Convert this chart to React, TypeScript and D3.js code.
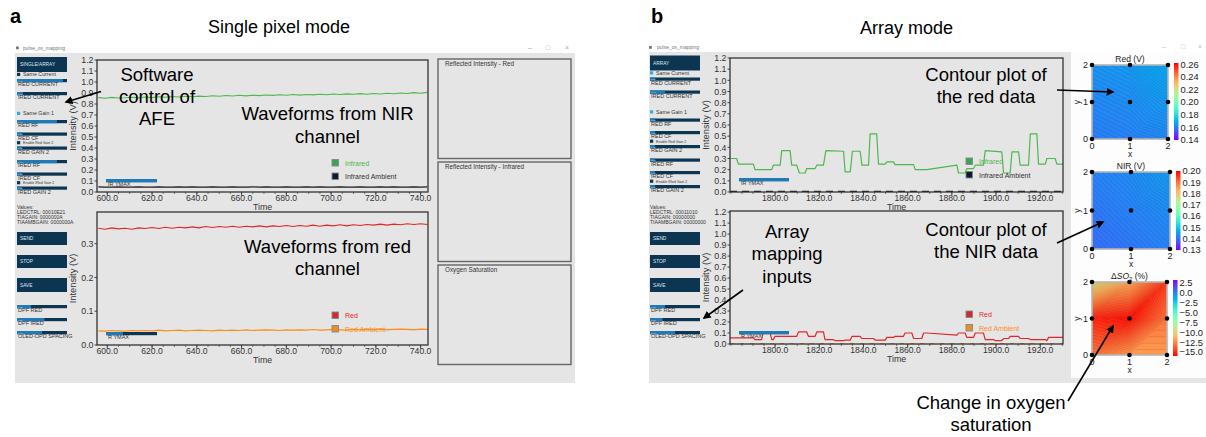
import React, { useEffect } from "react";
import * as d3 from "d3";

const FONT = "'Liberation Sans', Arial, Helvetica, sans-serif";
const NAVY = "#0c3552";
const BLUE = "#1e7bb8";
const LIGHTBLUE = "#29aee6";
const WIN = "#e5e5e5";

// ---------- Panel a: single pixel mode ----------
const timeA = [596, 599, 602, 605, 608, 611, 614, 617, 620, 623, 626, 629, 632, 635, 638, 641, 644, 647, 650, 653, 656, 659, 662, 665, 668, 671, 674, 677, 680, 683, 686, 689, 692, 695, 698, 701, 704, 707, 710, 713, 716, 719, 722, 725, 728, 731, 734, 737, 740, 743];
const irA = [0.858, 0.852, 0.860, 0.854, 0.857, 0.862, 0.856, 0.864, 0.858, 0.866, 0.861, 0.868, 0.863, 0.870, 0.866, 0.872, 0.868, 0.875, 0.870, 0.877, 0.873, 0.879, 0.874, 0.880, 0.876, 0.882, 0.878, 0.884, 0.879, 0.886, 0.881, 0.887, 0.883, 0.889, 0.884, 0.891, 0.886, 0.892, 0.888, 0.894, 0.889, 0.896, 0.891, 0.898, 0.893, 0.900, 0.895, 0.903, 0.898, 0.906];
const irAmbA = [0.046, 0.044, 0.045, 0.046, 0.044, 0.045, 0.047, 0.045, 0.044, 0.046, 0.045, 0.044, 0.046, 0.045, 0.047, 0.045, 0.044, 0.046, 0.045, 0.044, 0.046, 0.045, 0.044, 0.046, 0.045, 0.047, 0.045, 0.044, 0.046, 0.045, 0.044, 0.046, 0.045, 0.047, 0.045, 0.044, 0.046, 0.045, 0.044, 0.046, 0.045, 0.044, 0.046, 0.045, 0.047, 0.045, 0.044, 0.046, 0.045, 0.046];
const redA = [0.346, 0.343, 0.347, 0.344, 0.346, 0.343, 0.347, 0.345, 0.348, 0.345, 0.349, 0.346, 0.349, 0.347, 0.350, 0.347, 0.351, 0.348, 0.351, 0.349, 0.352, 0.349, 0.352, 0.350, 0.353, 0.350, 0.353, 0.351, 0.354, 0.351, 0.354, 0.352, 0.355, 0.352, 0.355, 0.353, 0.356, 0.353, 0.356, 0.354, 0.357, 0.355, 0.358, 0.355, 0.358, 0.356, 0.359, 0.357, 0.359, 0.357];
const redAmbA = [0.042, 0.041, 0.043, 0.042, 0.041, 0.043, 0.042, 0.043, 0.042, 0.044, 0.042, 0.043, 0.044, 0.042, 0.043, 0.044, 0.043, 0.042, 0.044, 0.043, 0.044, 0.043, 0.045, 0.043, 0.044, 0.045, 0.044, 0.043, 0.045, 0.044, 0.045, 0.044, 0.046, 0.044, 0.045, 0.046, 0.045, 0.044, 0.046, 0.045, 0.046, 0.045, 0.047, 0.045, 0.046, 0.047, 0.046, 0.045, 0.047, 0.046];

// ---------- Panel b: array mode ----------
const timeIrB = [1779.6, 1782.6, 1783.4, 1790.2, 1790.9, 1798.5, 1799.2, 1802.3, 1803.0, 1806.8, 1807.5, 1809.8, 1811.0, 1813.6, 1814.3, 1818.1, 1818.9, 1821.9, 1823.0, 1831.0, 1831.7, 1834.0, 1835.0, 1838.5, 1839.3, 1842.3, 1843.0, 1846.0, 1846.8, 1849.8, 1850.6, 1853.6, 1854.3, 1862.7, 1863.4, 1868.6, 1882.3, 1883.0, 1886.0, 1886.8, 1889.8, 1890.6, 1894.3, 1895.1, 1902.6, 1903.4, 1906.4, 1907.2, 1910.2, 1910.9, 1914.7, 1915.5, 1918.5, 1919.2, 1922.3, 1923.0, 1926.8, 1927.5, 1930.3];
const irB = [0.30, 0.30, 0.25, 0.25, 0.20, 0.20, 0.24, 0.24, 0.37, 0.37, 0.24, 0.24, 0.17, 0.17, 0.21, 0.21, 0.24, 0.24, 0.37, 0.365, 0.18, 0.18, 0.365, 0.365, 0.24, 0.24, 0.52, 0.52, 0.25, 0.25, 0.27, 0.27, 0.245, 0.245, 0.20, 0.20, 0.24, 0.17, 0.17, 0.21, 0.21, 0.24, 0.24, 0.37, 0.36, 0.17, 0.17, 0.36, 0.36, 0.24, 0.24, 0.52, 0.52, 0.25, 0.25, 0.30, 0.30, 0.25, 0.25];
const timeRedB = [1779.6, 1790.2, 1790.9, 1793.9, 1794.7, 1797.7, 1798.5, 1799.2, 1800.0, 1809.8, 1810.6, 1814.3, 1815.1, 1818.1, 1818.9, 1821.9, 1822.6, 1826.4, 1827.2, 1831.0, 1831.7, 1834.0, 1834.8, 1838.5, 1839.3, 1844.6, 1845.3, 1849.8, 1850.6, 1853.6, 1854.3, 1858.1, 1858.8, 1861.9, 1862.7, 1866.4, 1867.2, 1868.6, 1882.3, 1883.0, 1886.0, 1886.8, 1889.8, 1890.6, 1894.3, 1895.1, 1898.9, 1899.6, 1902.6, 1903.4, 1905.7, 1906.4, 1910.2, 1910.9, 1914.7, 1915.5, 1922.3, 1923.0, 1923.8, 1930.3];
const redB = [0.055, 0.055, 0.04, 0.04, 0.105, 0.105, 0.04, 0.04, 0.07, 0.07, 0.11, 0.11, 0.07, 0.07, 0.11, 0.11, 0.04, 0.04, 0.03, 0.03, 0.035, 0.035, 0.07, 0.07, 0.05, 0.05, 0.035, 0.035, 0.06, 0.06, 0.07, 0.07, 0.10, 0.10, 0.05, 0.05, 0.10, 0.10, 0.08, 0.10, 0.10, 0.06, 0.06, 0.10, 0.10, 0.04, 0.04, 0.03, 0.03, 0.05, 0.05, 0.07, 0.07, 0.05, 0.05, 0.04, 0.04, 0.03, 0.06, 0.06];
const timeAmbB = [1779.6, 1930.3];
const irAmbB = [0.006, 0.006];
const redAmbB = [0.004, 0.004];

// ---------- ticks ----------
const xTicksA = [600, 620, 640, 660, 680, 700, 720, 740];
const xTicksB = [1800, 1820, 1840, 1860, 1880, 1900, 1920];
const yTicksFull = [0, 0.1, 0.2, 0.3, 0.4, 0.5, 0.6, 0.7, 0.8, 0.9, 1.0, 1.1, 1.2];
const yTicksRedA = [0, 0.1, 0.2, 0.3];

// ---------- contour maps (rows: y = 0, 1, 2; columns: x = 0, 1, 2) ----------
const gridCoords = [0, 1, 2];
const redGrid = [
  [0.160, 0.161, 0.162],
  [0.162, 0.163, 0.165],
  [0.164, 0.165, 0.168],
];
const nirGrid = [
  [0.140, 0.141, 0.142],
  [0.141, 0.142, 0.143],
  [0.142, 0.143, 0.1445],
];
const dso2Grid = [
  [-13, -12, -12],
  [-15, -15.5, -13],
  [-9.5, -11.5, -14.5],
];
const redCbTicks = [0.26, 0.24, 0.22, 0.2, 0.18, 0.16, 0.14];
const nirCbTicks = [0.2, 0.19, 0.18, 0.17, 0.16, 0.15, 0.14, 0.13];
const dso2CbTicks = [2.5, 0.0, -2.5, -5.0, -7.5, -10.0, -12.5, -15.0];

function rainbow(t: number) {
  t = Math.max(0, Math.min(1, t));
  const r = Math.min(1, Math.abs(2 * t - 0.5));
  const g = Math.sin(Math.PI * t);
  const b = Math.cos((Math.PI * t) / 2);
  return d3.rgb(r * 255, g * 255, b * 255).formatHex();
}

type Series = { t: number[]; v: number[]; color: string; width?: number; dash?: string };

function LineChart(p: any) {
  const { id, x0, x1, y0, y1, xDomain, yDomain, xTicks, yTicks, series, legend, slider, yLabelX } = p;
  const xs = d3.scaleLinear().domain(xDomain).range([x0, x1]);
  const ys = d3.scaleLinear().domain(yDomain).range([y1, y0]);
  const fx = d3.format(".1f");
  const minor = d3.range(Math.ceil(xDomain[0] / 5) * 5, xDomain[1], 5);
  const mk = (s: Series) =>
    d3
      .line<number>()
      .x((_, i) => xs(s.t[i]))
      .y((d) => ys(d))(s.v) || "";
  return (
    <g fontFamily={FONT}>
      <defs>
        <clipPath id={id}>
          <rect x={x0} y={y0} width={x1 - x0} height={y1 - y0} />
        </clipPath>
      </defs>
      {minor.map((t) => (
        <line key={"m" + t} x1={xs(t)} x2={xs(t)} y1={y1} y2={y1 + 2} stroke="#444" strokeWidth={0.7} />
      ))}
      {xTicks.map((t: number) => (
        <g key={"x" + t}>
          <line x1={xs(t)} x2={xs(t)} y1={y1} y2={y1 + 3.5} stroke="#333" strokeWidth={0.9} />
          <text x={xs(t)} y={y1 + 8.7} textAnchor="middle" fontSize={8.6} fill="#333">
            {fx(t)}
          </text>
        </g>
      ))}
      {yTicks.map((v: number) => (
        <g key={"y" + v}>
          <line x1={x0 - 2.5} x2={x0} y1={ys(v)} y2={ys(v)} stroke="#333" strokeWidth={0.9} />
          <text x={x0 - 3.5} y={ys(v) + 3.2} textAnchor="end" fontSize={8.8} fill="#333">
            {fx(v)}
          </text>
        </g>
      ))}
      <text x={(x0 + x1) / 2} y={y1 + 17.5} textAnchor="middle" fontSize={8.8} fill="#333">
        Time
      </text>
      <text
        transform={`translate(${yLabelX},${(y0 + y1) / 2}) rotate(-90)`}
        textAnchor="middle"
        fontSize={9.3}
        fill="#333"
      >
        Intensity (V)
      </text>
      <g clipPath={`url(#${id})`}>
        {series.map((s: Series, k: number) => (
          <path
            key={k}
            d={mk(s)}
            fill="none"
            stroke={s.color}
            strokeWidth={s.width || 1.2}
            strokeDasharray={s.dash}
            strokeLinejoin="round"
          />
        ))}
      </g>
      {slider && (
        <g>
          <rect x={slider.x} y={slider.y} width={slider.w} height={3.2} fill={NAVY} />
          <rect x={slider.x} y={slider.y} width={slider.w * slider.frac} height={3.2} fill={BLUE} />
          <text x={slider.x + 2} y={slider.y + 7.3} fontSize={5.5} fill="#333">
            {slider.label}
          </text>
        </g>
      )}
      {legend.items.map((it: any, k: number) => (
        <g key={"l" + k}>
          <rect
            x={legend.x}
            y={legend.y + k * 13.5}
            width={6.5}
            height={6.5}
            fill={it.fill}
            stroke="#7a8a9a"
            strokeWidth={0.9}
          />
          <text x={legend.x + 13} y={legend.y + k * 13.5 + 6} fontSize={7} fill={it.text}>
            {it.label}
          </text>
        </g>
      ))}
      <rect x={x0} y={y0} width={x1 - x0} height={y1 - y0} fill="none" stroke="#333" strokeWidth={1.3} />
    </g>
  );
}

type SideItem =
  | { k: "btn"; y: number; h: number; label: string }
  | { k: "chk"; y: number; label: string; color: string; small?: boolean }
  | { k: "sld"; y: number; label: string; frac: number }
  | { k: "txt"; y: number; label: string };

function Sidebar({ x, items }: { x: number; items: SideItem[] }) {
  const w = 50;
  return (
    <g fontFamily={FONT}>
      {items.map((it: any, i: number) => {
        if (it.k === "btn")
          return (
            <g key={i}>
              <rect x={x} y={it.y} width={w} height={it.h} fill={NAVY} />
              <text x={x + 3} y={it.y + it.h / 2 + 1.8} fontSize={4.8} fill="#dfe8f0">
                {it.label}
              </text>
            </g>
          );
        if (it.k === "chk")
          return (
            <g key={i}>
              <rect x={x} y={it.y - 3.2} width={3.2} height={3.2} fill={it.color} />
              <text x={x + 6} y={it.y} fontSize={it.small ? 3.6 : 5.3} fill="#333">
                {it.label}
              </text>
            </g>
          );
        if (it.k === "sld")
          return (
            <g key={i}>
              <rect x={x} y={it.y} width={w} height={3.2} fill={NAVY} />
              <rect x={x} y={it.y} width={w * it.frac} height={3.2} fill={BLUE} />
              <text x={x + 1} y={it.y + 2.5} fontSize={2.3} fill="#cfe3f0">
                0.00
              </text>
              <text x={x + 1} y={it.y + 7.4} fontSize={5.5} fill="#333">
                {it.label}
              </text>
            </g>
          );
        return (
          <text key={i} x={x} y={it.y} fontSize={5} fill="#333">
            {it.label}
          </text>
        );
      })}
    </g>
  );
}

function makeSide(mode: string, dy: number, sameCurColor: string, fr: number[], vals: string[]): SideItem[] {
  return [
    { k: "btn", y: 57 + dy, h: 15, label: mode },
    { k: "chk", y: 76 + dy, label: "Same Current", color: sameCurColor },
    { k: "sld", y: 79 + dy, label: "RED CURRENT", frac: fr[0] },
    { k: "sld", y: 92 + dy, label: "IRED CURRENT", frac: fr[1] },
    { k: "chk", y: 115 + dy, label: "Same Gain 1", color: LIGHTBLUE },
    { k: "sld", y: 120 + dy, label: "RED RF", frac: fr[2] },
    { k: "sld", y: 132.5 + dy, label: "RED CF", frac: fr[3] },
    { k: "chk", y: 144.3 + dy, label: "Enable Red Gain 2", color: NAVY, small: true },
    { k: "sld", y: 146.5 + dy, label: "RED GAIN 2", frac: fr[4] },
    { k: "sld", y: 160 + dy, label: "IRED RF", frac: fr[5] },
    { k: "sld", y: 172.5 + dy, label: "IRED CF", frac: fr[6] },
    { k: "chk", y: 184.3 + dy, label: "Enable IRed Gain 2", color: NAVY, small: true },
    { k: "sld", y: 186.5 + dy, label: "IRED GAIN 2", frac: fr[7] },
    { k: "txt", y: 209, label: "Values:" },
    { k: "txt", y: 214, label: vals[0] },
    { k: "txt", y: 219, label: vals[1] },
    { k: "txt", y: 224, label: vals[2] },
    { k: "btn", y: 232, h: 13, label: "SEND" },
    { k: "btn", y: 255, h: 13, label: "STOP" },
    { k: "btn", y: 278, h: 14, label: "SAVE" },
    { k: "sld", y: 305, label: "DPF RED", frac: fr[8] },
    { k: "sld", y: 318, label: "DPF IRED", frac: fr[9] },
    { k: "sld", y: 331, label: "OLED-OPD SPACING", frac: fr[10] },
  ];
}

function ContourPlot(p: any) {
  const { uid, px, py, pw, ph, grid, domain, reverse, cbX, cbY0, cbY1, cbTicks, fmt, title } = p;
  const N = 61;
  const sx = d3.scaleLinear().domain([0, 2]).range([px, px + pw]);
  const sy = d3.scaleLinear().domain([0, 2]).range([py + ph, py]);
  const interp = (x: number, y: number) => {
    const cx = Math.min(1, Math.floor(x));
    const cy = Math.min(1, Math.floor(y));
    const fx = x - cx;
    const fy = y - cy;
    const z00 = grid[cy][cx];
    const z10 = grid[cy][cx + 1];
    const z01 = grid[cy + 1][cx];
    const z11 = grid[cy + 1][cx + 1];
    if (fx >= fy) return z00 + fx * (z10 - z00) + fy * (z11 - z10);
    return z00 + fy * (z01 - z00) + fx * (z11 - z01);
  };
  const values: number[] = new Array(N * N);
  for (let j = 0; j < N; j++)
    for (let i = 0; i < N; i++) values[j * N + i] = interp((i / (N - 1)) * 2, 2 - (j / (N - 1)) * 2);
  const flat = grid.flat();
  const mn = d3.min(flat) as number;
  const mx = d3.max(flat) as number;
  const nLev = 34;
  const step = (mx - mn) / nLev;
  const thresholds = d3.range(nLev).map((k) => mn + step * k);
  const contours = d3.contours().size([N, N]).thresholds(thresholds)(values);
  const color = (v: number) => {
    let t = (v - domain[0]) / (domain[1] - domain[0]);
    if (reverse) t = 1 - t;
    return rainbow(t);
  };
  const proj = d3.geoTransform({
    point(x: number, y: number) {
      (this as any).stream.point(sx(((x - 0.5) / (N - 1)) * 2), sy(2 - ((y - 0.5) / (N - 1)) * 2));
    },
  });
  const path = d3.geoPath(proj as any);
  const cbS = d3.scaleLinear().domain(domain).range([cbY1, cbY0]);
  const stops = d3.range(21).map((k) => k / 20);
  return (
    <g fontFamily={FONT}>
      <defs>
        <clipPath id={"clip" + uid}>
          <rect x={px} y={py} width={pw} height={ph} />
        </clipPath>
        <linearGradient id={"grad" + uid} x1="0" y1="1" x2="0" y2="0">
          {stops.map((s) => (
            <stop key={s} offset={s} stopColor={color(domain[0] + s * (domain[1] - domain[0]))} />
          ))}
        </linearGradient>
      </defs>
      <g clipPath={`url(#clip${uid})`}>
        <rect x={px} y={py} width={pw} height={ph} fill={color(mn)} />
        {contours.map((c, k) => {
          const f = color(c.value + step / 2);
          return (
            <path
              key={k}
              d={path(c as any) || ""}
              fill={f}
              stroke={d3.color(f)!.darker(0.9).formatHex()}
              strokeWidth={0.35}
            />
          );
        })}
      </g>
      <rect x={px} y={py} width={pw} height={ph} fill="none" stroke="#b4b4b4" strokeWidth={1.6} />
      {gridCoords.map((gx) =>
        gridCoords.map((gy) => <circle key={gx + "-" + gy} cx={sx(gx)} cy={sy(gy)} r={2.3} fill="#000" />)
      )}
      {gridCoords.map((g) => (
        <g key={"t" + g}>
          <text x={sx(g)} y={py + ph + 9.5} textAnchor="middle" fontSize={9} fill="#222">
            {g}
          </text>
          <text x={px - 4} y={sy(g) + 3.2} textAnchor="end" fontSize={9} fill="#222">
            {g}
          </text>
        </g>
      ))}
      <text x={px + pw / 2} y={py + ph + 18} textAnchor="middle" fontSize={8.5} fill="#222">
        x
      </text>
      <text transform={`translate(${px - 12},${py + ph / 2}) rotate(-90)`} textAnchor="middle" fontSize={8.5} fill="#222">
        y
      </text>
      <text x={px + pw / 2} y={py - 3} textAnchor="middle" fontSize={8.5} fill="#222">
        {title}
      </text>
      <rect x={cbX} y={cbY0} width={4.5} height={cbY1 - cbY0} fill={`url(#grad${uid})`} />
      {cbTicks.map((v: number) => (
        <text key={"c" + v} x={cbX + 6.5} y={cbS(v) + 3.3} fontSize={9.3} fill="#222">
          {fmt(v)}
        </text>
      ))}
    </g>
  );
}

function Arrow({ x1, y1, x2, y2 }: any) {
  return <line x1={x1} y1={y1} x2={x2} y2={y2} stroke="#000" strokeWidth={1.6} markerEnd="url(#arrowHead)" />;
}

function Label({ x, ys, lines, size = 18.5 }: any) {
  return (
    <g fontFamily={FONT} fontSize={size} fill="#000" textAnchor="middle">
      {lines.map((l: string, i: number) => (
        <text key={i} x={x} y={ys[i]}>
          {l}
        </text>
      ))}
    </g>
  );
}

export default function App() {
  useEffect(() => {
    document.body.style.margin = "0";
  }, []);

  const green = "#4db84d";
  const red = "#e4262a";
  const orange = "#ff8c1a";
  const dark = "#1b1b22";

  const sideA = makeSide("SINGLE/ARRAY", 0, NAVY, [0.92, 0.12, 0.8, 0.1, 0.1, 0.8, 0.1, 0.1, 0.28, 0.55, 0.5], [
    "LEDCTRL: 00010E21",
    "TIAGAIN: 0000000A",
    "TIAAMBGAIN: 0000000A",
  ]);
  const sideB = makeSide("ARRAY", -1.5, LIGHTBLUE, [0.1, 0.3, 0.1, 0.1, 0.1, 0.1, 0.1, 0.1, 0.3, 0.25, 0.5], [
    "LEDCTRL: 00011010",
    "TIAGAIN: 00000000",
    "TIAAMBGAIN: 00000000",
  ]);

  return (
    <svg
      width={1206}
      height={437}
      viewBox="0 0 1206 437"
      style={{ position: "absolute", left: 0, top: 0, background: "#fff" }}
      fontFamily={FONT}
    >
      <defs>
        <marker id="arrowHead" viewBox="0 0 10 10" refX="8" refY="5" markerWidth="5" markerHeight="5" orient="auto">
          <path d="M0,0 L10,5 L0,10 z" fill="#000" />
        </marker>
      </defs>
      <rect x={0} y={0} width={1206} height={437} fill="#fff" />

      {/* ===== Panel a ===== */}
      <text x={10} y={23} fontSize={20} fontWeight="bold" fill="#000">
        a
      </text>
      <text x={279} y={33} fontSize={18} textAnchor="middle" fill="#000">
        Single pixel mode
      </text>
      <rect x={16} y={46.5} width={2.8} height={2.8} fill="#777" />
      <text x={23} y={49.5} fontSize={5} fill="#777">
        pulse_ox_mapping
      </text>
      <g fontSize={7} fill="#aaa" textAnchor="middle">
        <text x={530} y={50}>–</text>
        <text x={548} y={50}>□</text>
        <text x={567} y={50}>×</text>
      </g>
      <rect x={15} y={53} width={560} height={330} fill={WIN} />
      <Sidebar x={17} items={sideA} />

      <LineChart
        id="ca1"
        x0={97}
        x1={428}
        y0={60}
        y1={192}
        xDomain={[595.4, 743.3]}
        yDomain={[0, 1.2]}
        xTicks={xTicksA}
        yTicks={yTicksFull}
        yLabelX={76}
        series={[
          { t: timeA, v: irAmbA, color: dark, width: 1.2 },
          { t: timeA, v: irA, color: green, width: 1.1 },
        ]}
        slider={{ x: 106, y: 179, w: 51, frac: 1, label: "IR YMAX" }}
        legend={{
          x: 332,
          y: 159.5,
          items: [
            { fill: "#3fa34d", text: green, label: "Infrared" },
            { fill: "#111827", text: "#333", label: "Infrared Ambient" },
          ],
        }}
      />
      <LineChart
        id="ca2"
        x0={97}
        x1={428}
        y0={212}
        y1={345}
        xDomain={[595.4, 743.3]}
        yDomain={[0, 0.394]}
        xTicks={xTicksA}
        yTicks={yTicksRedA}
        yLabelX={76}
        series={[
          { t: timeA, v: redAmbA, color: orange, width: 1.2 },
          { t: timeA, v: redA, color: red, width: 1.1 },
        ]}
        slider={{ x: 106, y: 332, w: 51, frac: 0.33, label: "R YMAX" }}
        legend={{
          x: 332,
          y: 312,
          items: [
            { fill: "#d42a2a", text: red, label: "Red" },
            { fill: "#f08c1a", text: orange, label: "Red Ambient" },
          ],
        }}
      />
      <g fontFamily={FONT}>
        {[
          { y: 59, t: "Reflected Intensity - Red" },
          { y: 162, t: "Reflected Intensity - Infrared" },
          { y: 265, t: "Oxygen Saturation" },
        ].map((b) => (
          <g key={b.t}>
            <rect x={438} y={b.y} width={133} height={99.5} fill="none" stroke="#666" strokeWidth={1.4} />
            <text x={445} y={b.y + 6.5} fontSize={6.3} fill="#333">
              {b.t}
            </text>
          </g>
        ))}
      </g>

      <Label x={157} ys={[81, 103, 125]} lines={["Software", "control of", "AFE"]} />
      <Arrow x1={101} y1={91.5} x2={66} y2={102} />
      <Label x={327.5} ys={[120, 143]} lines={["Waveforms from NIR", "channel"]} />
      <Label x={327.5} ys={[253, 275]} lines={["Waveforms from red", "channel"]} />

      {/* ===== Panel b ===== */}
      <text x={651} y={23} fontSize={20} fontWeight="bold" fill="#000">
        b
      </text>
      <text x={906.5} y={34} fontSize={18} textAnchor="middle" fill="#000">
        Array mode
      </text>
      <rect x={649} y={46} width={2.8} height={2.8} fill="#777" />
      <text x={657} y={49} fontSize={5} fill="#777">
        pulse_ox_mapping
      </text>
      <rect x={649} y={52} width={557} height={331} fill={WIN} />
      <rect x={1071} y={52} width={135} height={326} fill="#fdfdfd" />
      <rect x={1071} y={40} width={135} height={12} fill="#fff" />
      <g fontSize={7} fill="#bbb" textAnchor="middle">
        <text x={1164} y={49}>–</text>
        <text x={1183} y={49}>□</text>
        <text x={1200} y={49}>×</text>
      </g>
      <Sidebar x={650} items={sideB} />

      <LineChart
        id="cb1"
        x0={730}
        x1={1063}
        y0={58}
        y1={192}
        xDomain={[1779.6, 1930.3]}
        yDomain={[0, 1.2]}
        xTicks={xTicksB}
        yTicks={yTicksFull}
        yLabelX={709}
        series={[
          { t: timeAmbB, v: irAmbB, color: dark, width: 1.3, dash: "7,5" },
          { t: timeIrB, v: irB, color: green, width: 1.2 },
        ]}
        slider={{ x: 739, y: 178, w: 50, frac: 1, label: "IR YMAX" }}
        legend={{
          x: 966,
          y: 158,
          items: [
            { fill: "#3fa34d", text: green, label: "Infrared" },
            { fill: "#111827", text: "#333", label: "Infrared Ambient" },
          ],
        }}
      />
      <LineChart
        id="cb2"
        x0={730}
        x1={1063}
        y0={211}
        y1={344}
        xDomain={[1779.6, 1930.3]}
        yDomain={[0, 1.21]}
        xTicks={xTicksB}
        yTicks={yTicksFull}
        yLabelX={709}
        series={[
          { t: timeAmbB, v: redAmbB, color: orange, width: 1.3, dash: "4,6" },
          { t: timeRedB, v: redB, color: red, width: 1.2 },
        ]}
        slider={{ x: 739, y: 331, w: 50, frac: 1, label: "R YMAX" }}
        legend={{
          x: 966,
          y: 311,
          items: [
            { fill: "#d42a2a", text: red, label: "Red" },
            { fill: "#f08c1a", text: orange, label: "Red Ambient" },
          ],
        }}
      />

      <ContourPlot
        uid="r"
        px={1092}
        py={65}
        pw={76}
        ph={74}
        grid={redGrid}
        domain={[0.14, 0.262]}
        reverse={false}
        cbX={1174}
        cbY0={63}
        cbY1={140}
        cbTicks={redCbTicks}
        fmt={d3.format(".2f")}
        title="Red (V)"
      />
      <ContourPlot
        uid="n"
        px={1092}
        py={172}
        pw={78}
        ph={77}
        grid={nirGrid}
        domain={[0.13, 0.2]}
        reverse={false}
        cbX={1176}
        cbY0={171}
        cbY1={250}
        cbTicks={nirCbTicks}
        fmt={d3.format(".2f")}
        title="NIR (V)"
      />
      <ContourPlot
        uid="s"
        px={1092}
        py={282}
        pw={75}
        ph={73}
        grid={dso2Grid}
        domain={[-16, 3.3]}
        reverse={true}
        cbX={1173}
        cbY0={280}
        cbY1={356}
        cbTicks={dso2CbTicks}
        fmt={d3.format(".1f")}
        title={
          <>
            <tspan>Δ</tspan>
            <tspan fontStyle="italic">SO</tspan>
            <tspan dy={2} fontSize={6}>
              2
            </tspan>
            <tspan dy={-2}> (%)</tspan>
          </>
        }
      />

      <Label x={986} ys={[81, 103]} lines={["Contour plot of", "the red data"]} />
      <Arrow x1={1057} y1={90} x2={1113} y2={92} />
      <Label x={986} ys={[236, 258]} lines={["Contour plot of", "the NIR data"]} />
      <Arrow x1={1057} y1={243} x2={1103} y2={222} />
      <Label x={787} ys={[238, 260, 283]} lines={["Array", "mapping", "inputs"]} />
      <Arrow x1={743} y1={290} x2={704} y2={318} />
      <Label x={991} ys={[409, 431]} lines={["Change in oxygen", "saturation"]} />
      <Arrow x1={1068} y1={401} x2={1113} y2={326} />
    </svg>
  );
}
